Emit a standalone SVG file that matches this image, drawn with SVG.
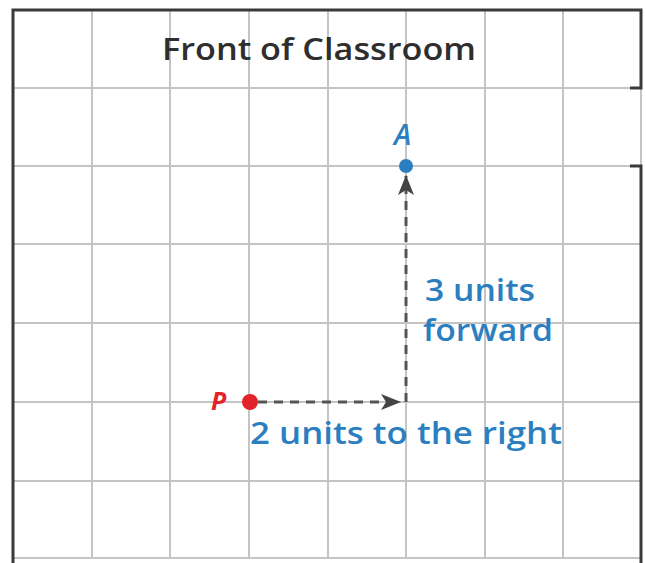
<svg xmlns="http://www.w3.org/2000/svg" width="646" height="563" viewBox="0 0 646 563">
<style>
.grid{stroke:#c4c4c4;stroke-width:2;fill:none}
.wall{stroke:#3a3a3a;stroke-width:3;fill:none}
.dash{stroke:#555;stroke-width:3;stroke-dasharray:9,7;fill:none}
.lbl{font-family:"Open Sans",Lato,sans-serif;font-size:31px;fill:#2b7fc0;font-weight:600}
.title{font-family:"Open Sans",Lato,sans-serif;font-size:30px;fill:#2e2e2e;font-weight:600}
</style>
<defs>
<marker id="ah" viewBox="0 0 20 16" refX="19" refY="8" markerWidth="20" markerHeight="16" markerUnits="userSpaceOnUse" orient="auto">
<path d="M0,0 L20,8 L0,16 L5,8 Z" fill="#444"/>
</marker>
</defs>
<rect width="646" height="563" fill="#fff"/>
<g id="grid">
<path class="grid" d="M92,10V558 M170,10V558 M249,10V558 M328,10V558 M406,10V558 M485,10V558 M563,10V558 M641,88V166"/>
<path class="grid" d="M13,88H641 M13,166H641 M13,244H641 M13,323H641 M13,402H641 M13,481H641 M13,558H641"/>
</g>
<g id="walls">
<path class="wall" d="M13,563V10H641V88H630 M630,166H641V563"/>
</g>
<g id="title"><text class="title" x="162" y="60" textLength="314" lengthAdjust="spacingAndGlyphs">Front of Classroom</text></g>
<g id="connectors">
<line class="dash" x1="258" y1="402" x2="400" y2="402" marker-end="url(#ah)"/>
<line class="dash" x1="406" y1="402" x2="406" y2="176" marker-end="url(#ah)"/>
</g>
<g id="P">
<circle cx="250" cy="402" r="8" fill="#e3232b"/>
<text x="211" y="410" font-family="'Open Sans',Lato,sans-serif" font-size="25" font-weight="700" font-style="italic" fill="#e3232b">P</text>
</g>
<g id="A">
<circle cx="406" cy="166" r="7" fill="#2b7fc0"/>
<text x="394" y="145" font-family="'Open Sans',Lato,sans-serif" font-size="29" font-weight="600" font-style="italic" fill="#2b7fc0">A</text>
</g>
<g id="labels">
<text class="lbl" x="425" y="301" textLength="110" lengthAdjust="spacingAndGlyphs">3 units</text>
<text class="lbl" x="423" y="341" textLength="130" lengthAdjust="spacingAndGlyphs">forward</text>
<text class="lbl" x="250" y="444" textLength="312" lengthAdjust="spacingAndGlyphs">2 units to the right</text>
</g>
</svg>
